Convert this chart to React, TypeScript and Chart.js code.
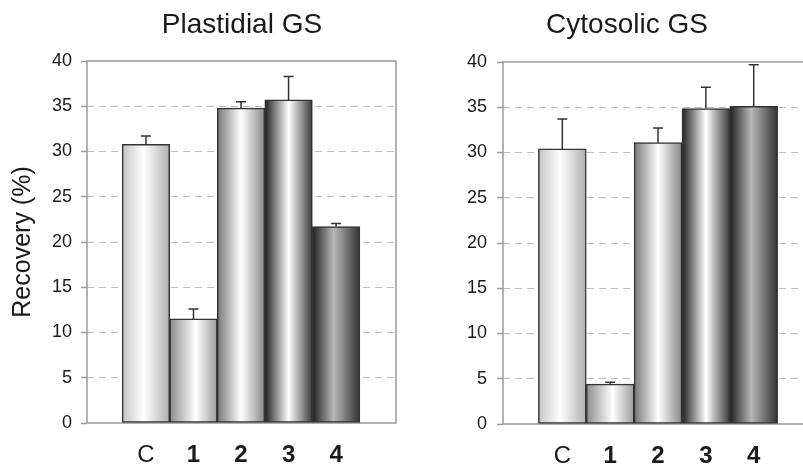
import React, { useEffect, useRef } from 'react';
import { Chart, registerables } from 'chart.js';

Chart.register(...registerables);

const categories = ['C', '1', '2', '3', '4'];
const plastidialValues = [30.8, 11.5, 34.8, 35.7, 21.7];
const plastidialErrors = [0.9, 1.1, 0.7, 2.6, 0.35];
const cytosolicValues = [30.4, 4.4, 31.1, 34.85, 35.1];
const cytosolicErrors = [3.3, 0.2, 1.6, 2.35, 4.6];
const yMin = 0;
const yMax = 40;
const yStep = 5;

// gradient stops per bar: [offset, colour]
const barShades: [number, string][][] = [
  [[0, '#c4c4c4'], [0.45, '#ffffff'], [0.9, '#bdbdbd'], [1, '#b0b0b0']],
  [[0, '#8c8c8c'], [0.55, '#ffffff'], [1, '#9c9c9c']],
  [[0, '#767676'], [0.5, '#ffffff'], [1, '#888888']],
  [[0, '#1e1e1e'], [0.5, '#ffffff'], [1, '#3a3a3a']],
  [[0, '#1e1e1e'], [0.45, '#b8b8b8'], [1, '#303030']],
];

const FONT = "'Liberation Sans', Arial, Helvetica, sans-serif";

interface PanelProps {
  title: string;
  values: number[];
  errors: number[];
  width: number;
  titleX: number;
  yAxisWidth: number;
  showYTitle: boolean;
  padTop: number;
  xAxisHeight: number;
  padRight: number;
  tickPad: number;
}

function makeChart(canvas: HTMLCanvasElement, p: PanelProps) {
  const decor = {
    id: 'decor',
    beforeDatasetsDraw(chart: any) {
      const { ctx, chartArea } = chart;
      ctx.save();
      ctx.strokeStyle = '#9a9a9a';
      ctx.lineWidth = 1.5;
      ctx.strokeRect(chartArea.left, chartArea.top, chartArea.right - chartArea.left, chartArea.bottom - chartArea.top);
      ctx.restore();
      const meta = chart.getDatasetMeta(0);
      meta.data.forEach((el: any, i: number) => {
        const half = el.width / 2;
        const l = el.x - half;
        const r = el.x + half;
        if (!isFinite(l) || !isFinite(r)) return;
        const g = ctx.createLinearGradient(l, 0, r, 0);
        barShades[i].forEach(([o, col]) => g.addColorStop(o, col));
        el.options = Object.assign(Object.create(Object.getPrototypeOf(el.options)), el.options, { backgroundColor: g });
      });
    },
    afterDatasetsDraw(chart: any) {
      const { ctx } = chart;
      const xs = chart.scales.x;
      const ys = chart.scales.y;
      ctx.save();
      ctx.strokeStyle = '#333333';
      ctx.lineWidth = 1.5;
      p.values.forEach((v, i) => {
        const x = xs.getPixelForValue(i);
        const y1 = ys.getPixelForValue(v);
        const y2 = ys.getPixelForValue(v + p.errors[i]);
        ctx.beginPath();
        ctx.moveTo(x, y1);
        ctx.lineTo(x, y2);
        ctx.moveTo(x - 5, y2);
        ctx.lineTo(x + 5, y2);
        ctx.stroke();
      });
      ctx.restore();
    },
    afterDraw(chart: any) {
      const { ctx } = chart;
      ctx.save();
      ctx.fillStyle = '#1a1a1a';
      ctx.font = `28px ${FONT}`;
      ctx.textAlign = 'center';
      ctx.textBaseline = 'middle';
      ctx.fillText(p.title, p.titleX, 25);
      ctx.restore();
    },
  };

  return new Chart(canvas, {
    type: 'bar',
    data: {
      datasets: [
        {
          data: p.values.map((v, i) => ({ x: i, y: v })),
          backgroundColor: (c: any) => (c.dataIndex >= 0 ? '#cccccc' : '#cccccc'),
          borderColor: '#333333',
          borderWidth: 1.5,
          borderSkipped: false,
          barPercentage: 1,
          categoryPercentage: 1,
        } as any,
      ],
    },
    options: {
      animation: false,
      responsive: false,
      devicePixelRatio: 1,
      events: [],
      layout: { padding: { top: p.padTop, left: 0, right: p.padRight, bottom: 0 } },
      plugins: {
        legend: { display: false },
        tooltip: { enabled: false },
        title: { display: false },
      },
      scales: {
        x: {
          type: 'linear',
          min: -1.24,
          max: 5.26,
          offset: false,
          grid: { display: false, drawTicks: false, offset: false },
          border: { display: false },
          afterBuildTicks: (s: any) => {
            s.ticks = categories.map((_, i) => ({ value: i }));
          },
          afterFit: (s: any) => {
            s.height = p.xAxisHeight;
          },
          ticks: {
            autoSkip: false,
            maxRotation: 0,
            padding: 18,
            color: '#1a1a1a',
            font: (c: any) => ({ size: 24, family: FONT, weight: c.index === 0 ? 'normal' : 'bold' }),
            callback: (v: any) => categories[Math.round(Number(v))] ?? '',
          },
        } as any,
        y: {
          min: yMin,
          max: yMax,
          afterFit: (s: any) => {
            s.width = p.yAxisWidth;
          },
          ticks: {
            stepSize: yStep,
            padding: p.tickPad,
            color: '#1a1a1a',
            font: { size: 18, family: FONT },
          },
          grid: {
            color: (c: any) => (c.tick && (c.tick.value === yMin || c.tick.value === yMax) ? 'rgba(0,0,0,0)' : '#bdbdbd'),
            lineWidth: 1,
            tickLength: 6,
            tickColor: '#9a9a9a',
            tickWidth: 1.5,
          },
          border: { display: false, dash: [7, 5] },
          title: {
            display: p.showYTitle,
            text: 'Recovery (%)',
            color: '#1a1a1a',
            font: { size: 25, family: FONT },
            padding: { top: 8, bottom: 0 },
          },
        } as any,
      },
    },
    plugins: [decor],
  });
}

function Panel(p: PanelProps) {
  const ref = useRef<HTMLCanvasElement | null>(null);
  useEffect(() => {
    if (!ref.current) return;
    const chart = makeChart(ref.current, p);
    return () => chart.destroy();
  }, []);
  return <canvas ref={ref} width={p.width} height={466} style={{ display: 'block' }} />;
}

export default function App() {
  return (
    <div style={{ position: 'absolute', left: 0, top: 0, width: 803, height: 466, background: '#fff', overflow: 'hidden' }}>
      <div style={{ position: 'absolute', left: 0, top: 0, width: 400, height: 466 }}>
        <Panel
          title="Plastidial GS"
          values={plastidialValues}
          errors={plastidialErrors}
          width={400}
          titleX={242}
          yAxisWidth={87}
          showYTitle={true}
          padTop={61}
          xAxisHeight={43}
          padRight={4}
          tickPad={9}
        />
      </div>
      <div style={{ position: 'absolute', left: 400, top: 0, width: 403, height: 466, overflow: 'hidden' }}>
        <Panel
          title="Cytosolic GS"
          values={cytosolicValues}
          errors={cytosolicErrors}
          width={418}
          titleX={227}
          yAxisWidth={103}
          showYTitle={false}
          padTop={62}
          xAxisHeight={42}
          padRight={4}
          tickPad={10}
        />
      </div>
    </div>
  );
}
